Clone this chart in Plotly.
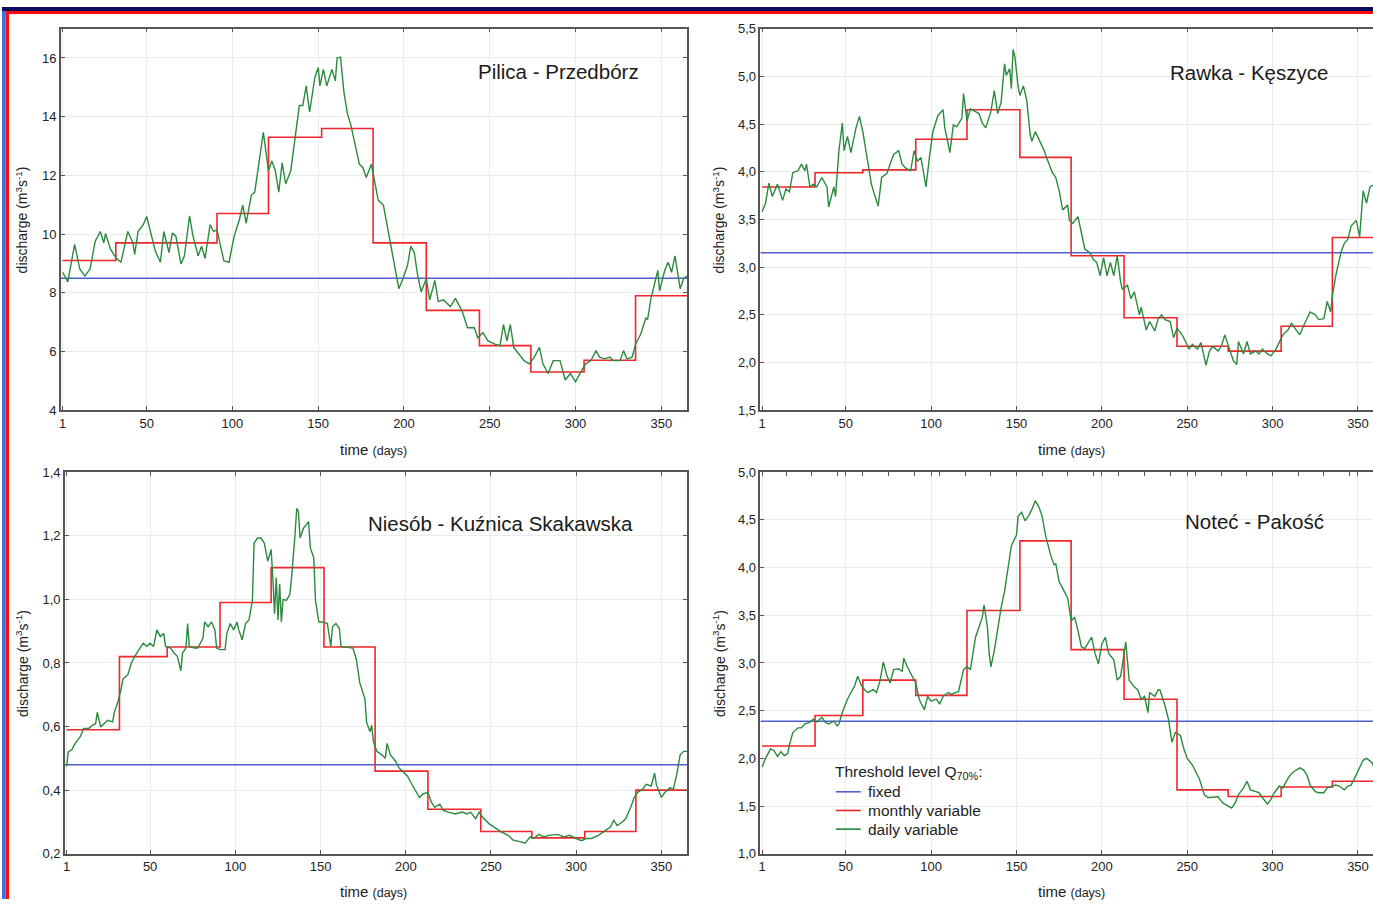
import plotly.graph_objects as go

W, H = 1373, 907

# ---------------- data ----------------
month_start = [1, 32, 60, 91, 121, 152, 182, 213, 244, 274, 305, 335]
year_end = 365
x_ticks = [1, 50, 100, 150, 200, 250, 300, 350]

# Pilica - Przedbórz
pilica_days = [1, 4, 8, 11, 14, 17, 20, 23, 25, 26, 29, 32, 35, 39, 42, 43, 45, 48, 50, 53, 55, 58, 60, 63, 65, 67, 70, 72, 75, 77, 80, 82, 84, 87, 89, 91, 95, 98, 101, 104, 106, 108, 111, 113, 115, 117, 118, 121, 123, 125, 127, 129, 131, 134, 136, 139, 141, 143, 145, 148, 150, 151, 153, 155, 158, 160, 161, 163, 165, 167, 169, 171, 174, 176, 178, 181, 183, 185, 188, 190, 192, 195, 197, 199, 202, 204, 206, 208, 210, 213, 215, 218, 220, 223, 227, 230, 234, 237, 241, 243, 246, 249, 253, 256, 258, 260, 262, 264, 267, 270, 273, 276, 279, 281, 284, 287, 291, 294, 297, 300, 303, 306, 309, 312, 314, 317, 320, 322, 326, 328, 330, 333, 335, 338, 341, 342, 344, 346, 348, 349, 352, 354, 356, 358, 360, 361, 363, 365]
pilica_daily = [8.70, 8.37, 9.65, 8.81, 8.57, 8.81, 9.76, 10.09, 9.70, 10.02, 9.48, 9.20, 9.04, 10.09, 9.70, 9.31, 10.09, 10.32, 10.60, 9.93, 9.43, 9.04, 10.09, 9.37, 10.04, 9.93, 8.98, 9.26, 10.62, 9.93, 9.26, 9.59, 9.17, 10.32, 10.09, 10.15, 9.09, 9.04, 9.93, 10.48, 10.99, 10.37, 11.32, 11.43, 12.27, 12.99, 13.47, 12.16, 12.49, 12.16, 11.43, 12.43, 11.71, 12.16, 13.05, 14.38, 14.38, 15.05, 14.16, 15.33, 15.67, 15.05, 15.61, 15.05, 15.61, 15.22, 16.00, 16.03, 14.83, 14.11, 13.72, 13.21, 12.38, 12.27, 11.93, 12.38, 11.82, 11.15, 10.99, 10.37, 9.65, 8.81, 8.14, 8.42, 8.92, 9.59, 9.37, 8.59, 8.03, 8.48, 7.76, 8.42, 7.70, 7.76, 7.53, 7.81, 7.36, 6.81, 6.81, 6.47, 6.64, 6.36, 6.25, 6.20, 6.92, 6.36, 6.92, 6.14, 5.92, 5.69, 5.58, 5.81, 6.14, 5.58, 5.25, 5.69, 5.69, 5.03, 5.25, 4.97, 5.30, 5.58, 5.69, 6.03, 5.81, 5.75, 5.81, 5.69, 5.69, 6.03, 5.75, 5.81, 6.25, 6.59, 7.14, 7.09, 7.81, 8.26, 8.76, 8.06, 8.76, 9.04, 8.70, 9.26, 8.59, 8.14, 8.48, 8.57]
pilica_monthly = [9.1, 9.7, 9.7, 10.7, 13.3, 13.6, 9.7, 7.4, 6.2, 5.3, 5.7, 7.9]
pilica_fixed = 8.5

# Rawka - Kęszyce
rawka_days = [1, 3, 5, 7, 10, 13, 15, 17, 19, 22, 24, 26, 27, 29, 31, 33, 36, 39, 40, 43, 44, 46, 48, 49, 51, 53, 56, 58, 60, 62, 65, 67, 69, 71, 74, 76, 78, 81, 83, 85, 88, 90, 92, 94, 97, 99, 101, 104, 107, 108, 111, 113, 115, 118, 119, 121, 123, 126, 128, 130, 132, 135, 137, 139, 141, 143, 144, 146, 147, 148, 149, 151, 152, 154, 156, 158, 159, 161, 163, 166, 168, 171, 173, 175, 177, 180, 181, 183, 186, 188, 190, 193, 195, 197, 199, 201, 203, 205, 207, 209, 211, 212, 215, 217, 219, 222, 223, 226, 228, 231, 233, 235, 237, 240, 242, 244, 247, 249, 251, 253, 256, 258, 261, 263, 265, 268, 270, 272, 275, 277, 279, 280, 283, 285, 287, 290, 292, 294, 297, 299, 302, 304, 306, 309, 311, 313, 316, 318, 320, 322, 325, 327, 330, 332, 334, 335, 337, 340, 342, 344, 346, 349, 351, 352, 353, 355, 357, 360]
rawka_daily = [3.58, 3.67, 3.88, 3.74, 3.87, 3.70, 3.82, 3.79, 3.99, 4.01, 4.08, 4.01, 4.08, 3.84, 3.87, 3.84, 3.94, 3.84, 3.63, 3.84, 3.74, 4.22, 4.51, 4.22, 4.37, 4.20, 4.46, 4.58, 4.42, 4.18, 3.87, 3.75, 3.64, 3.94, 3.98, 4.08, 4.18, 4.22, 4.08, 4.04, 4.01, 4.22, 4.11, 4.15, 3.84, 4.15, 4.42, 4.59, 4.65, 4.46, 4.20, 4.49, 4.47, 4.56, 4.82, 4.53, 4.66, 4.63, 4.61, 4.51, 4.46, 4.63, 4.85, 4.61, 4.73, 5.13, 5.01, 5.08, 4.87, 5.28, 5.21, 4.89, 4.80, 4.90, 4.75, 4.39, 4.32, 4.42, 4.35, 4.23, 4.13, 3.99, 3.94, 3.80, 3.60, 3.65, 3.49, 3.46, 3.53, 3.37, 3.19, 3.15, 3.08, 3.05, 2.91, 3.10, 2.91, 3.05, 2.91, 3.12, 2.84, 2.77, 2.81, 2.67, 2.74, 2.50, 2.58, 2.34, 2.43, 2.33, 2.46, 2.50, 2.45, 2.43, 2.26, 2.36, 2.29, 2.22, 2.14, 2.19, 2.14, 2.21, 1.97, 2.12, 2.17, 2.12, 2.17, 2.29, 2.12, 2.02, 1.98, 2.22, 2.09, 2.22, 2.09, 2.12, 2.09, 2.14, 2.09, 2.07, 2.14, 2.22, 2.29, 2.34, 2.41, 2.36, 2.29, 2.38, 2.46, 2.53, 2.50, 2.45, 2.46, 2.64, 2.53, 2.70, 2.91, 3.15, 3.25, 3.29, 3.43, 3.49, 3.32, 3.60, 3.80, 3.67, 3.84, 3.87]
rawka_monthly = [3.84, 3.99, 4.02, 4.34, 4.65, 4.15, 3.12, 2.47, 2.17, 2.12, 2.38, 3.31]
rawka_fixed = 3.15

# Niesób - Kuźnica Skakawska
niesob_days = [1, 2, 4, 6, 9, 11, 14, 16, 18, 19, 21, 23, 25, 28, 29, 31, 33, 34, 37, 39, 41, 44, 46, 48, 50, 52, 54, 56, 58, 59, 62, 64, 66, 68, 69, 71, 72, 73, 76, 78, 81, 82, 84, 86, 88, 89, 91, 94, 95, 97, 99, 101, 102, 104, 106, 108, 110, 111, 113, 115, 117, 119, 121, 122, 123, 124, 125, 126, 127, 128, 130, 132, 133, 135, 136, 137, 138, 140, 143, 144, 146, 147, 149, 151, 154, 156, 157, 159, 161, 162, 165, 169, 171, 173, 176, 177, 179, 180, 181, 183, 186, 188, 189, 191, 194, 196, 198, 201, 203, 206, 208, 210, 213, 215, 217, 220, 222, 225, 229, 233, 236, 238, 241, 243, 245, 249, 253, 256, 260, 263, 267, 270, 273, 275, 278, 281, 284, 289, 293, 296, 300, 303, 306, 309, 313, 316, 320, 322, 324, 327, 329, 332, 334, 336, 339, 341, 344, 346, 347, 350, 352, 355, 357, 359, 361, 363, 365]
niesob_daily = [0.475, 0.52, 0.527, 0.547, 0.568, 0.594, 0.594, 0.604, 0.609, 0.645, 0.599, 0.609, 0.620, 0.615, 0.645, 0.676, 0.718, 0.749, 0.764, 0.800, 0.821, 0.847, 0.862, 0.852, 0.862, 0.852, 0.904, 0.883, 0.893, 0.852, 0.847, 0.831, 0.821, 0.775, 0.831, 0.847, 0.924, 0.852, 0.847, 0.847, 0.878, 0.929, 0.914, 0.929, 0.904, 0.847, 0.842, 0.842, 0.893, 0.924, 0.904, 0.929, 0.904, 0.873, 0.924, 0.935, 0.997, 1.177, 1.193, 1.193, 1.177, 1.120, 1.157, 1.069, 0.955, 1.069, 0.935, 1.048, 0.929, 1.000, 0.997, 1.017, 1.069, 1.203, 1.286, 1.276, 1.193, 1.224, 1.244, 1.162, 1.131, 0.997, 0.929, 0.929, 0.924, 0.852, 0.914, 0.924, 0.909, 0.852, 0.849, 0.847, 0.811, 0.738, 0.687, 0.614, 0.584, 0.604, 0.553, 0.522, 0.511, 0.500, 0.547, 0.511, 0.491, 0.470, 0.460, 0.444, 0.424, 0.393, 0.377, 0.388, 0.393, 0.362, 0.346, 0.356, 0.336, 0.331, 0.325, 0.331, 0.325, 0.331, 0.310, 0.331, 0.315, 0.294, 0.279, 0.269, 0.258, 0.243, 0.238, 0.233, 0.253, 0.248, 0.261, 0.253, 0.258, 0.261, 0.253, 0.258, 0.248, 0.241, 0.248, 0.248, 0.258, 0.269, 0.284, 0.305, 0.289, 0.300, 0.310, 0.346, 0.377, 0.393, 0.403, 0.418, 0.413, 0.454, 0.418, 0.377, 0.393, 0.408, 0.403, 0.450, 0.511, 0.522, 0.522]
niesob_monthly = [0.59, 0.82, 0.85, 0.99, 1.10, 0.85, 0.46, 0.34, 0.27, 0.25, 0.27, 0.40]
niesob_fixed = 0.48

# Noteć - Pakość
notec_days = [1, 3, 6, 8, 10, 12, 14, 16, 17, 19, 22, 24, 26, 29, 31, 33, 36, 38, 40, 43, 45, 46, 48, 51, 53, 55, 57, 59, 61, 63, 66, 68, 70, 72, 74, 76, 78, 81, 83, 84, 86, 89, 91, 93, 96, 98, 100, 103, 105, 107, 110, 112, 114, 116, 119, 121, 123, 126, 128, 130, 131, 133, 134, 135, 137, 139, 141, 143, 145, 147, 150, 151, 153, 155, 157, 159, 161, 163, 165, 167, 170, 172, 173, 175, 178, 180, 182, 184, 186, 188, 190, 193, 194, 196, 198, 200, 202, 204, 207, 209, 211, 213, 214, 216, 219, 221, 223, 225, 227, 228, 231, 233, 234, 237, 239, 241, 243, 246, 248, 250, 253, 255, 257, 260, 262, 264, 268, 270, 271, 274, 276, 278, 280, 283, 285, 287, 290, 292, 294, 297, 299, 301, 304, 306, 309, 311, 314, 316, 318, 320, 322, 325, 327, 330, 332, 335, 337, 339, 342, 344, 346, 349, 351, 353, 355, 358, 360]
notec_daily = [1.91, 2.00, 2.10, 2.08, 2.02, 2.07, 2.03, 2.05, 2.14, 2.27, 2.32, 2.32, 2.36, 2.38, 2.41, 2.38, 2.43, 2.38, 2.36, 2.39, 2.34, 2.36, 2.48, 2.62, 2.69, 2.75, 2.86, 2.77, 2.72, 2.69, 2.72, 2.69, 2.81, 3.01, 2.87, 2.79, 2.93, 2.94, 2.91, 3.05, 2.96, 2.86, 2.79, 2.62, 2.51, 2.65, 2.60, 2.62, 2.57, 2.65, 2.69, 2.67, 2.69, 2.70, 2.93, 2.96, 2.93, 3.27, 3.37, 3.48, 3.61, 3.37, 3.10, 2.96, 3.13, 3.37, 3.58, 3.75, 3.99, 4.23, 4.34, 4.54, 4.58, 4.49, 4.54, 4.61, 4.70, 4.64, 4.54, 4.34, 4.13, 4.03, 4.04, 3.85, 3.75, 3.68, 3.44, 3.48, 3.34, 3.17, 3.15, 3.24, 3.27, 3.10, 2.99, 3.20, 3.27, 3.10, 3.03, 2.82, 2.86, 3.10, 3.22, 2.82, 2.75, 2.72, 2.62, 2.65, 2.48, 2.69, 2.65, 2.72, 2.72, 2.55, 2.41, 2.17, 2.27, 2.24, 2.10, 2.00, 1.93, 1.86, 1.79, 1.62, 1.59, 1.59, 1.60, 1.55, 1.53, 1.50, 1.48, 1.53, 1.62, 1.69, 1.76, 1.67, 1.65, 1.64, 1.59, 1.52, 1.57, 1.64, 1.71, 1.69, 1.79, 1.84, 1.88, 1.90, 1.88, 1.83, 1.72, 1.65, 1.64, 1.64, 1.69, 1.71, 1.72, 1.71, 1.67, 1.71, 1.72, 1.83, 1.91, 1.98, 2.00, 1.96, 1.88]
notec_monthly = [2.13, 2.45, 2.82, 2.66, 3.55, 4.28, 3.14, 2.62, 1.67, 1.60, 1.70, 1.76]
notec_fixed = 2.39

titles = ["Pilica - Przedbórz", "Rawka - Kęszyce", "Niesób - Kuźnica Skakawska", "Noteć - Pakość"]
y_ticks = [
    [4, 6, 8, 10, 12, 14, 16],
    [1.5, 2.0, 2.5, 3.0, 3.5, 4.0, 4.5, 5.0, 5.5],
    [0.2, 0.4, 0.6, 0.8, 1.0, 1.2, 1.4],
    [1.0, 1.5, 2.0, 2.5, 3.0, 3.5, 4.0, 4.5, 5.0],
]
y_ranges = [[4, 17], [1.5, 5.5], [0.2, 1.4], [1.0, 5.0]]
legend_title = "Threshold level Q<sub>70%</sub>:"
legend_names = ["fixed", "monthly variable", "daily variable"]

# ---------------- styling ----------------
BLUE = "#4f5fd0"
RED = "#f2252a"
GREEN = "#2b8a3e"
FONT = "Liberation Sans, Arial, sans-serif"
line_colors = [BLUE, RED, GREEN]

# panel pixel boxes: (left, right, top, bottom)
boxes = [(59, 686, 22, 410), (759.5, 1373, 22, 410), (63, 686, 473, 861), (759.5, 1373, 473, 861)]
x_ranges = [[0, 365], [0, 358.8], [0, 365], [0, 358.8]]


def xdom(l, r):
    return [l / W, r / W]


def ydom(t, b):
    return [1 - b / H, 1 - t / H]


def px(x):
    return x / W


def py(y):
    return 1 - y / H


fig = go.Figure()

series = [
    (pilica_days, pilica_daily, pilica_monthly, pilica_fixed),
    (rawka_days, rawka_daily, rawka_monthly, rawka_fixed),
    (niesob_days, niesob_daily, niesob_monthly, niesob_fixed),
    (notec_days, notec_daily, notec_monthly, notec_fixed),
]

for i, (days, daily, monthly, fixed) in enumerate(series):
    n = i + 1
    xa = "x" if n == 1 else f"x{n}"
    ya = "y" if n == 1 else f"y{n}"
    fig.add_trace(go.Scatter(x=[0, year_end], y=[fixed, fixed], mode="lines",
                             line=dict(color=BLUE, width=1.5), name=legend_names[0],
                             showlegend=False, xaxis=xa, yaxis=ya, hoverinfo="skip"))
    fig.add_trace(go.Scatter(x=month_start + [year_end], y=monthly + [monthly[-1]], mode="lines",
                             line=dict(color=RED, width=1.6, shape="hv"), name=legend_names[1],
                             showlegend=False, xaxis=xa, yaxis=ya, hoverinfo="skip"))
    fig.add_trace(go.Scatter(x=days, y=daily, mode="lines",
                             line=dict(color=GREEN, width=1.4), name=legend_names[2],
                             showlegend=False, xaxis=xa, yaxis=ya, hoverinfo="skip"))

# invisible trace to carry the extra top tick axis of the last panel
fig.add_trace(go.Scatter(x=[None], y=[None], xaxis="x5", yaxis="y4", showlegend=False, hoverinfo="skip"))

layout = dict(
    width=W, height=H,
    margin=dict(l=0, r=0, t=0, b=0),
    paper_bgcolor="white", plot_bgcolor="white",
    font=dict(family=FONT, size=13, color="#222"),
    separators=",.",
    showlegend=False,
)

for i in range(4):
    n = i + 1
    l, r, t, b = boxes[i]
    right_cut = (n in (2, 4))
    xkey = "xaxis" if n == 1 else f"xaxis{n}"
    ykey = "yaxis" if n == 1 else f"yaxis{n}"
    fmt = "d" if n == 1 else ".1f"
    layout[xkey] = dict(
        domain=xdom(l, r), range=x_ranges[i], anchor="y" if n == 1 else f"y{n}",
        tickvals=x_ticks, ticks="inside", ticklen=4, tickcolor="#555",
        showline=True, linecolor="#555", linewidth=1.6, mirror="ticks",
        showgrid=True, gridcolor="#ebebeb", gridwidth=1, zeroline=False,
        tickfont=dict(size=13, color="#222"),
    )
    layout[ykey] = dict(
        domain=ydom(t, b), range=y_ranges[i], anchor="x" if n == 1 else f"x{n}",
        tickvals=y_ticks[i], tickformat=fmt, ticks="inside", ticklen=4, tickcolor="#555",
        showline=True, linecolor="#555", linewidth=1.6, mirror=(False if right_cut else "ticks"),
        showgrid=True, gridcolor="#ebebeb", gridwidth=1, zeroline=False,
        tickfont=dict(size=13, color="#222"),
    )

# extra minor ticks along the top of the last panel
l, r, t, b = boxes[3]
layout["xaxis5"] = dict(
    domain=xdom(l, r), range=x_ranges[3], overlaying="x4", anchor="y4", side="top",
    tickvals=list(range(15, 360, 15)), ticks="inside", ticklen=4, tickcolor="#555",
    showticklabels=False, showgrid=False, showline=False, zeroline=False,
)

fig.update_layout(**layout)

annotations = []
title_pos = [(557, 66), (1249, 67), (499, 525), (1254, 523)]
for txt, (cx, cy) in zip(titles, title_pos):
    annotations.append(dict(x=px(cx), y=py(cy), xref="paper", yref="paper", text=txt,
                            showarrow=False, xanchor="center", yanchor="middle",
                            font=dict(family=FONT, size=20.5, color="#1a1a1a")))

time_txt = "time <span style='font-size:12.5px'>(days)</span>"
for (cx, cy) in [(372, 450), (1071, 450), (372, 899), (1071, 899)]:
    annotations.append(dict(x=px(cx), y=py(cy), xref="paper", yref="paper", text=time_txt,
                            showarrow=False, xanchor="center", yanchor="middle",
                            font=dict(family=FONT, size=15, color="#222")))

dis_txt = "discharge (m<sup>3</sup>s<sup>-1</sup>)"
for (cx, cy) in [(20, 216), (718, 216), (20, 667), (718, 667)]:
    annotations.append(dict(x=px(cx), y=py(cy), xref="paper", yref="paper", text=dis_txt,
                            showarrow=False, xanchor="center", yanchor="middle", textangle=-90,
                            font=dict(family=FONT, size=14, color="#222")))

# legend block in the last panel (title + three entries)
annotations.append(dict(x=px(832), y=py(778), xref="paper", yref="paper", text=legend_title,
                        showarrow=False, xanchor="left", yanchor="middle",
                        font=dict(family=FONT, size=15.5, color="#222")))
legend_rows = [798, 817, 836]
shapes = []
for name, col, ry in zip(legend_names, line_colors, legend_rows):
    annotations.append(dict(x=px(865), y=py(ry), xref="paper", yref="paper", text=name,
                            showarrow=False, xanchor="left", yanchor="middle",
                            font=dict(family=FONT, size=15.5, color="#222")))
    shapes.append(dict(type="line", xref="paper", yref="paper", x0=px(835), x1=px(860),
                       y0=py(ry), y1=py(ry), line=dict(color=col, width=1.6)))

# page frame decoration
shapes += [
    dict(type="rect", xref="paper", yref="paper", x0=0, x1=px(3.5), y0=0, y1=1,
         fillcolor="#3d6fe0", line=dict(width=0), layer="above"),
    dict(type="rect", xref="paper", yref="paper", x0=px(3.5), x1=px(7), y0=0, y1=py(4),
         fillcolor="#ff0a0a", line=dict(width=0), layer="above"),
    dict(type="rect", xref="paper", yref="paper", x0=0, x1=1, y0=py(4), y1=1,
         fillcolor="#0b0b5e", line=dict(width=0), layer="above"),
    dict(type="rect", xref="paper", yref="paper", x0=px(3.5), x1=1, y0=py(7), y1=py(4),
         fillcolor="#ff0a0a", line=dict(width=0), layer="above"),
]

fig.update_layout(annotations=annotations, shapes=shapes)

fig.write_html("out.html", config={"displayModeBar": False},
               post_script="document.body.style.margin='0px';document.body.style.overflow='hidden';")
